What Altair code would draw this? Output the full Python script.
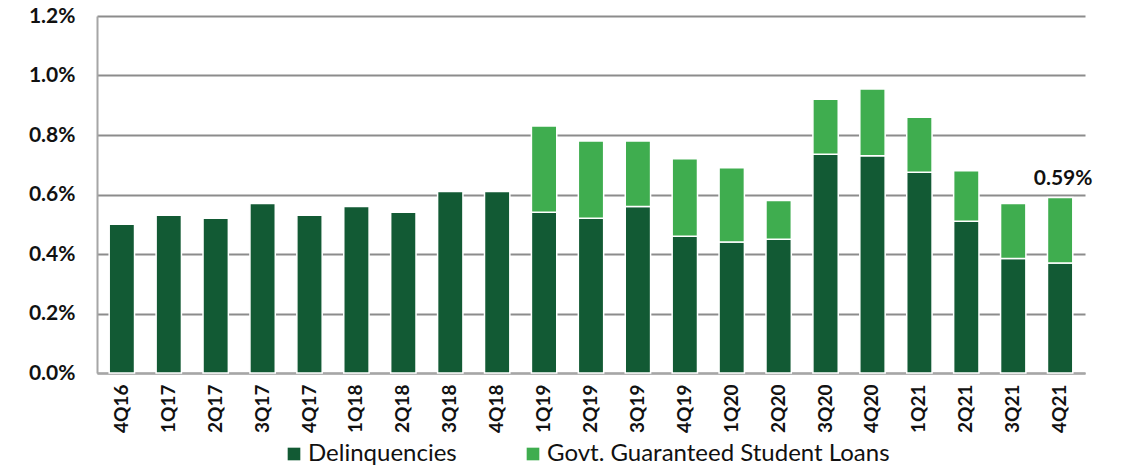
import altair as alt
import pandas as pd

quarters = ["4Q16", "1Q17", "2Q17", "3Q17", "4Q17", "1Q18", "2Q18", "3Q18", "4Q18",
            "1Q19", "2Q19", "3Q19", "4Q19", "1Q20", "2Q20", "3Q20", "4Q20",
            "1Q21", "2Q21", "3Q21", "4Q21"]
delinquencies = [0.50, 0.53, 0.52, 0.57, 0.53, 0.56, 0.54, 0.61, 0.61,
                 0.54, 0.52, 0.56, 0.46, 0.44, 0.45, 0.735, 0.73,
                 0.675, 0.51, 0.385, 0.37]
govt_guaranteed = [0, 0, 0, 0, 0, 0, 0, 0, 0,
                   0.29, 0.26, 0.22, 0.26, 0.25, 0.13, 0.185, 0.225,
                   0.185, 0.17, 0.185, 0.22]
series = ["Delinquencies", "Govt. Guaranteed Student Loans"]
colors = ["#125a34", "#3fad4f"]
y_ticks = [0.0, 0.2, 0.4, 0.6, 0.8, 1.0, 1.2]
annot_quarter = "4Q21"

rows = []
for q, d, g in zip(quarters, delinquencies, govt_guaranteed):
    rows.append({"quarter": q, "series": series[0], "value": d, "ord": 0})
    if g > 0:
        rows.append({"quarter": q, "series": series[1], "value": g, "ord": 1})
df = pd.DataFrame(rows)

i = quarters.index(annot_quarter)
annot = pd.DataFrame({"quarter": [annot_quarter],
                      "total": [round(delinquencies[i] + govt_guaranteed[i], 2)]})

font = "Lato"

x_enc = alt.X("quarter:N", sort=quarters, title=None,
              scale=alt.Scale(paddingInner=0.46, paddingOuter=0.26),
              axis=alt.Axis(labelAngle=-90, labelFontWeight="bold", labelFontSize=19,
                            labelColor="#111111", labelFont=font, ticks=False,
                            labelPadding=11, domainColor="#a6a6a6", domainWidth=2,
                            labelBaseline="middle", labelAlign="right"))

bars = alt.Chart(df).mark_bar(stroke="white", strokeWidth=1.5).encode(
    x=x_enc,
    y=alt.Y("value:Q", stack="zero", title=None,
            scale=alt.Scale(domain=[0, 1.2], nice=False),
            axis=alt.Axis(values=y_ticks, labelExpr="format(datum.value, '.1f') + '%'",
                          labelFontWeight="bold", labelFontSize=21, labelColor="#111111",
                          labelFont=font, ticks=False, labelPadding=22,
                          domainColor="#a6a6a6", domainWidth=2,
                          grid=True, gridColor="#8c8c8c", gridWidth=2)),
    color=alt.Color("series:N", scale=alt.Scale(domain=series, range=colors),
                    legend=alt.Legend(title=None, orient="none", direction="horizontal",
                                      legendX=185, legendY=426, labelFontSize=24,
                                      labelFont=font, labelColor="#111111",
                                      labelLimit=500,
                                      symbolType="square", symbolSize=160,
                                      symbolStrokeWidth=0, columnPadding=64,
                                      labelOffset=2)),
    order=alt.Order("ord:Q", sort="ascending"),
)

label = alt.Chart(annot).transform_calculate(
    lbl="format(datum.total, '.2f') + '%'"
).mark_text(fontWeight="bold", fontSize=21, font=font,
            color="#111111", dy=-18, dx=3).encode(
    x=alt.X("quarter:N", sort=quarters),
    y=alt.Y("total:Q"),
    text="lbl:N",
)

chart = alt.layer(bars, label).properties(
    width=988, height=357,
    autosize=alt.AutoSizeParams(type="none"),
    padding={"left": 89, "top": 8, "right": 30, "bottom": 95},
).configure_view(stroke=None)

chart.save("out.html", embed_options={"renderer": "svg", "actions": False})
